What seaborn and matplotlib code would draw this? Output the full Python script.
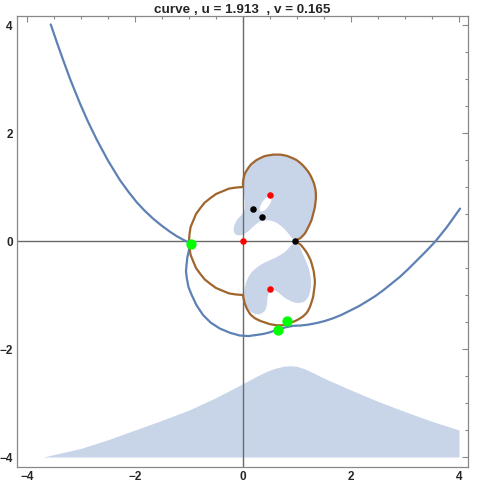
import numpy as np
import pandas as pd
import seaborn as sns
import matplotlib
matplotlib.use('Agg')
import matplotlib.pyplot as plt
from matplotlib.ticker import MultipleLocator

# blue curve
curve_x = [-3.56, -3.44, -3.33, -3.19, -3.02, -2.87, -2.71, -2.5, -2.28, -2.12, -1.97, -1.82,
           -1.66, -1.5, -1.35, -1.22, -1.11, -1.03, -0.98, -1.0, -1.03, -1.045, -1.056, -1.04,
           -1.01, -0.95, -0.86, -0.74, -0.6, -0.43, -0.24, -0.06, 0.1, 0.25, 0.38, 0.5, 0.64,
           0.78, 0.93, 1.06, 1.2, 1.36, 1.52, 1.67, 1.82, 1.98, 2.14, 2.29, 2.45, 2.6, 2.75,
           2.91, 3.06, 3.22, 3.39, 3.56, 3.77, 4.02]
curve_y = [4.01, 3.66, 3.35, 2.97, 2.55, 2.21, 1.88, 1.49, 1.13, 0.91, 0.72, 0.56,
           0.41, 0.28, 0.17, 0.085, 0.025, -0.015, -0.06, -0.17, -0.3, -0.44, -0.56, -0.69,
           -0.85, -1.0, -1.19, -1.37, -1.51, -1.62, -1.7, -1.75, -1.76, -1.74, -1.72, -1.69, -1.64,
           -1.6, -1.57, -1.565, -1.55, -1.52, -1.48, -1.43, -1.37, -1.29, -1.21, -1.12, -1.02, -0.91, -0.79,
           -0.66, -0.52, -0.36, -0.19, -0.01, 0.25, 0.6]

# brown closed curve: upper lobe, lower lobe, left arc
lobe_up_x = [0.0, 0.005, 0.02, 0.04, 0.07, 0.11, 0.15, 0.2, 0.25, 0.31, 0.37, 0.43, 0.5, 0.56,
             0.63, 0.69, 0.75, 0.82, 0.88, 0.94, 0.99, 1.05, 1.11, 1.16, 1.21, 1.25, 1.28, 1.31,
             1.33, 1.345, 1.35, 1.35, 1.34, 1.33, 1.31, 1.29, 1.27, 1.24, 1.21, 1.18, 1.15, 1.11,
             1.07, 1.02, 0.97]
lobe_up_y = [1.07, 1.13, 1.2, 1.26, 1.31, 1.37, 1.42, 1.46, 1.5, 1.53, 1.56, 1.58, 1.59, 1.6,
             1.6, 1.6, 1.59, 1.575, 1.55, 1.525, 1.5, 1.455, 1.4, 1.345, 1.28, 1.215, 1.15, 1.08,
             1.01, 0.935, 0.86, 0.78, 0.7, 0.62, 0.54, 0.465, 0.39, 0.32, 0.26, 0.2, 0.145, 0.1,
             0.06, 0.03, 0.0]
lobe_dn_x = [1.02, 1.07, 1.11, 1.15, 1.19, 1.22, 1.25, 1.27, 1.29, 1.31, 1.32, 1.33, 1.33, 1.32,
             1.31, 1.3, 1.28, 1.26, 1.24, 1.21, 1.18, 1.14, 1.1, 1.06, 1.02, 0.97, 0.92, 0.87,
             0.82, 0.78, 0.73, 0.69, 0.62, 0.56, 0.5, 0.44, 0.38, 0.32, 0.27, 0.22, 0.17, 0.13,
             0.1, 0.07, 0.05, 0.03, 0.02, 0.01]
lobe_dn_y = [-0.035, -0.07, -0.12, -0.17, -0.23, -0.29, -0.35, -0.41, -0.485, -0.56, -0.64, -0.72, -0.8, -0.88,
             -0.955, -1.03, -1.1, -1.16, -1.22, -1.28, -1.33, -1.37, -1.405, -1.43, -1.455, -1.48, -1.5, -1.52,
             -1.54, -1.55, -1.56, -1.56, -1.56, -1.55, -1.54, -1.52, -1.5, -1.48, -1.455, -1.43, -1.39, -1.35,
             -1.3, -1.25, -1.2, -1.15, -1.1, -1.06]
arc_x = [0.0, -0.13, -0.26, -0.38, -0.5, -0.61, -0.71, -0.79, -0.87, -0.92, -0.97, -0.99, -1.0,
         -0.99, -0.97, -0.92, -0.87, -0.79, -0.71, -0.61, -0.5, -0.38, -0.26, -0.13, 0.0, 0.0]
arc_y = [-1.0, -0.99, -0.97, -0.92, -0.87, -0.79, -0.71, -0.61, -0.5, -0.38, -0.26, -0.13, 0.0,
         0.13, 0.26, 0.38, 0.5, 0.61, 0.71, 0.79, 0.87, 0.92, 0.97, 0.99, 1.0, 1.07]

# shaded regions
upper_in_x = [0.92, 0.88, 0.84, 0.77, 0.69, 0.62, 0.56, 0.5, 0.44, 0.37, 0.31, 0.24, 0.16, 0.1,
              0.04, -0.02, -0.09, -0.14, -0.17, -0.175, -0.16, -0.13, -0.09, -0.04, 0.0, 0.03,
              0.04, 0.035, 0.02, 0.01, 0.005]
upper_in_y = [0.04, 0.09, 0.14, 0.22, 0.29, 0.34, 0.365, 0.38, 0.385, 0.38, 0.36, 0.31, 0.24, 0.18,
              0.14, 0.11, 0.105, 0.125, 0.17, 0.22, 0.29, 0.36, 0.42, 0.47, 0.52, 0.58,
              0.65, 0.74, 0.84, 0.95, 1.03]
hole_x = [0.518, 0.476, 0.419, 0.363, 0.322, 0.307, 0.322, 0.364, 0.421, 0.477, 0.518, 0.533]
hole_y = [0.829, 0.831, 0.794, 0.73, 0.655, 0.59, 0.551, 0.549, 0.586, 0.65, 0.725, 0.791]
lower_x = [0.97, 1.02, 1.06, 1.09, 1.13, 1.17, 1.21, 1.24, 1.26, 1.26, 1.24, 1.22, 1.18, 1.14,
           1.09, 1.02, 0.96, 0.9, 0.84, 0.77, 0.71, 0.65, 0.59, 0.54, 0.5, 0.47, 0.455, 0.45,
           0.445, 0.43, 0.4, 0.35, 0.29, 0.22, 0.16, 0.11, 0.06, 0.035, 0.02, 0.03, 0.06, 0.1,
           0.15, 0.22, 0.31, 0.4, 0.5, 0.6, 0.69, 0.77, 0.84, 0.9]
lower_y = [0.0, -0.05, -0.12, -0.2, -0.29, -0.38, -0.48, -0.6, -0.72, -0.84, -0.94, -1.02, -1.08, -1.12,
           -1.14, -1.15, -1.14, -1.12, -1.09, -1.05, -1.0, -0.95, -0.91, -0.91, -0.93, -0.98, -1.04, -1.1,
           -1.17, -1.24, -1.3, -1.34, -1.36, -1.35, -1.32, -1.27, -1.2, -1.1, -0.98, -0.87, -0.76, -0.67,
           -0.59, -0.52, -0.45, -0.4, -0.355, -0.31, -0.26, -0.21, -0.14, -0.07]
bump_x = [-3.7, -3.0, -2.5, -2.0, -1.5, -1.0, -0.5, 0.0, 0.15, 0.3, 0.45, 0.6, 0.75, 0.87, 1.0,
          1.15, 1.3, 1.5, 2.0, 2.5, 3.0, 3.5, 4.0]
bump_y = [-4.0, -3.84, -3.68, -3.5, -3.32, -3.13, -2.9, -2.64, -2.56, -2.48, -2.41, -2.355, -2.32,
          -2.31, -2.32, -2.37, -2.44, -2.54, -2.76, -2.97, -3.16, -3.34, -3.5]

red_x = [0.0, 0.5, 0.5]
red_y = [0.0, 0.86, -0.88]
black_x = [0.18, 0.35, 0.96]
black_y = [0.6, 0.45, 0.0]
green_x = [-0.97, 0.64, 0.82]
green_y = [-0.06, -1.64, -1.48]

blue = '#5E81B5'
brown = '#A0652D'
shade = '#C8D5E9'

sns.set_style('white')
plt.rcParams['font.family'] = ['Liberation Sans', 'DejaVu Sans']

fig = plt.figure(figsize=(4.85, 4.91), dpi=100)
ax = fig.add_axes([17 / 485, 24 / 491, 451 / 485, 451 / 491])

ax.fill_between(bump_x, bump_y, -4.0, color=shade, lw=0, zorder=1)
ax.fill(lobe_up_x + upper_in_x, lobe_up_y + upper_in_y, color=shade, lw=0, zorder=1)
ax.fill(hole_x, hole_y, color='white', lw=0, zorder=1.5)
ax.fill(lower_x, lower_y, color=shade, lw=0, zorder=1)

ax.axhline(0, color='#6a6a6a', lw=1.0, zorder=2)
ax.axvline(0, color='#6a6a6a', lw=1.0, zorder=2)

blue_df = pd.DataFrame({'x': curve_x, 'y': curve_y})
brown_df = pd.DataFrame({'x': lobe_up_x + lobe_dn_x + arc_x, 'y': lobe_up_y + lobe_dn_y + arc_y})
sns.lineplot(data=blue_df, x='x', y='y', sort=False, estimator=None, color=blue, lw=1.6, ax=ax, zorder=3)
sns.lineplot(data=brown_df, x='x', y='y', sort=False, estimator=None, color=brown, lw=1.6, ax=ax, zorder=3)

sns.scatterplot(x=red_x, y=red_y, color='#FF0000', s=22, linewidth=0, ax=ax, zorder=5)
sns.scatterplot(x=black_x, y=black_y, color='black', s=22, linewidth=0, ax=ax, zorder=5)
sns.scatterplot(x=green_x, y=green_y, color='#00FF00', s=55, linewidth=0, ax=ax, zorder=5)

ax.set_xlim(-4.185, 4.167)
ax.set_ylim(-4.185, 4.167)
ax.set_xlabel('')
ax.set_ylabel('')
ax.xaxis.set_major_locator(MultipleLocator(2))
ax.xaxis.set_minor_locator(MultipleLocator(0.5))
ax.yaxis.set_major_locator(MultipleLocator(2))
ax.yaxis.set_minor_locator(MultipleLocator(0.5))
ax.tick_params(which='both', direction='in', top=True, right=True, color='#888888', width=0.8,
               labelsize=8.5, pad=3)
ax.tick_params(which='major', length=4)
ax.tick_params(which='minor', length=2.2)
for lab in ax.get_xticklabels() + ax.get_yticklabels():
    lab.set_fontweight('bold')
for sp in ax.spines.values():
    sp.set_color('#888888')
    sp.set_linewidth(0.9)

ax.set_title('curve , u = 1.913  , v = 0.165', fontsize=9.7, fontweight='bold', pad=2)

fig.savefig('out.png', dpi=100)
